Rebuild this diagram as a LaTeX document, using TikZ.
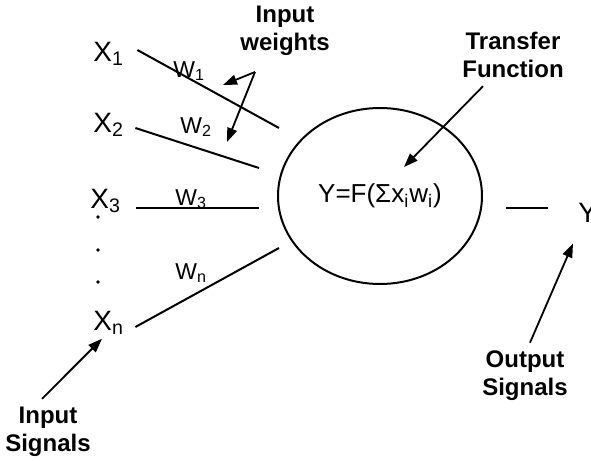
\documentclass[tikz,border=0pt]{standalone}
\usepackage{fontspec}
\setmainfont{Liberation Sans}
\usetikzlibrary{arrows.meta,positioning,shapes.geometric}
\tikzset{
  inlabel/.style={font=\fontsize{14}{16}\selectfont, inner sep=0pt, anchor=base west},
  wlabel/.style={font=\fontsize{11.5}{13}\selectfont, inner sep=0pt, anchor=base west},
  callout/.style={font=\fontsize{12}{14}\selectfont\bfseries, align=center, inner sep=0pt},
  neuron/.style={draw, ellipse, line width=1pt, minimum width=102pt, minimum height=88pt,
               inner sep=0pt, font=\fontsize{13}{15}\selectfont},
  wire/.style={line width=1pt},
  pointer/.style={-{Triangle[length=7pt,width=5pt]}, line width=0.9pt},
}
\def\xL{93}
\def\wL{175}

\begin{document}
\begin{tikzpicture}[x=0.5pt,y=-0.5pt]
  \useasboundingbox (0,0) rectangle (591,461);
  % inputs and weights
  \node[inlabel] (x1) at (\xL,61) {X\textsubscript{1}};
  \node[inlabel] (x2) at (\xL,132) {X\textsubscript{2}};
  \node[inlabel] (x3) at (90,208) {X\textsubscript{3}};
  \node[inlabel] (xn) at (\xL,330) {X\textsubscript{n}};
  \foreach \y in {217,250,282} \fill (98,\y) circle[radius=0.9pt];
  \node[wlabel] (w1) at (173,77) {W\textsubscript{1}};
  \node[wlabel] (w2) at (180,133) {W\textsubscript{2}};
  \node[wlabel] (w3) at (\wL,205) {W\textsubscript{3}};
  \node[wlabel] (wn) at (\wL,279) {W\textsubscript{n}};
  \node[neuron] (cell) at (380,196) {Y=F(Σx\textsubscript{i}w\textsubscript{i})};
  \node[inlabel] (yout) at (578,222) {Y};
  \coordinate (e1) at (279,128);
  \coordinate (e2) at (259,168);
  \coordinate (e3) at (259,208);
  \coordinate (en) at (279,248);
  \draw[wire] ([shift={(6.5pt,5.5pt)}]x1.base east) -- (e1);
  \draw[wire] ([shift={(5.5pt,2pt)}]x2.base east) -- (e2);
  \draw[wire] ([shift={(7.5pt,0pt)}]x3.base east) -- (e3);
  \draw[wire] ([shift={(5.5pt,1.5pt)}]xn.base east) -- (en);
  \draw[wire] ([shift={(11.5pt,-6pt)}]cell.east) -- ([shift={(-15pt,7pt)}]yout.base west);
  % callouts
  \node[callout] (iw) at (285,31) {Input\\weights};
  \node[callout] (tf) at (513,55) {Transfer\\Function};
  \node[callout] (is) at (48,432) {Input\\Signals};
  \node[callout] (os) at (525,376) {Output\\Signals};
  \coordinate (wtip) at (255,72);
  \coordinate (wa) at (223,85);
  \coordinate (wb) at (227,142);
  \coordinate (tfend) at (404,167);
  \draw[pointer] (wtip) -- (wa);
  \draw[pointer] (wtip) -- (wb);
  \draw[pointer] ([shift={(-15pt,-4pt)}]tf.south) -- (tfend);
  \draw[pointer] ([shift={(-3pt,4pt)}]is.north) -- ([shift={(4.5pt,-2pt)}]xn.south west);
  \draw[pointer] ([shift={(2.5pt,4pt)}]os.north) -- ([shift={(-2.5pt,-10.5pt)}]yout.south west);
\end{tikzpicture}
\end{document}
